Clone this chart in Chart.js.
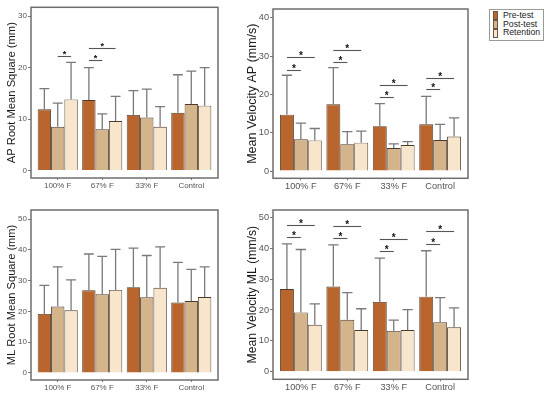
<!DOCTYPE html>
<html><head><meta charset="utf-8">
<script src="https://cdn.jsdelivr.net/npm/chart.js@4/dist/chart.umd.min.js"></script>
<style>
html,body{margin:0;padding:0;background:#fff;width:550px;height:399px;overflow:hidden;position:relative;font-family:'Liberation Sans',Arial,sans-serif}
canvas{position:absolute}
#legend{position:absolute;left:489px;top:9px;width:55px;height:32px;border:1px solid #9a9a9a;box-sizing:border-box;background:#fff}
#legend .sw{position:absolute;left:3px;width:5px;height:9px;box-sizing:border-box;border:1px solid #6b5442}
#legend .lt{position:absolute;left:13px;font-size:8.7px;line-height:9px;color:#222;white-space:nowrap}
</style></head><body>
<canvas id="c1" width="240" height="199" style="left:0;top:0;width:240px;height:199px"></canvas>
<canvas id="c2" width="240" height="199" style="left:240px;top:0;width:240px;height:199px"></canvas>
<canvas id="c3" width="240" height="200" style="left:0;top:199px;width:240px;height:200px"></canvas>
<canvas id="c4" width="240" height="200" style="left:240px;top:199px;width:240px;height:200px"></canvas>
<div id="legend">
  <div class="sw" style="top:0.7px;background:#b8652e"></div>
  <div class="sw" style="top:9.7px;background:#d4b48a"></div>
  <div class="sw" style="top:18.7px;background:#f8e6cc"></div>
  <span class="lt" id="l0" style="top:1px"></span>
  <span class="lt" id="l1" style="top:9.5px"></span>
  <span class="lt" id="l2" style="top:18px"></span>
</div>
<script>
// ---------- data ----------
const categories = ['100% F', '67% F', '33% F', 'Control'];
const seriesNames = ['Pre-test', 'Post-test', 'Retention'];
const seriesColors = ['#b8652e', '#d4b48a', '#f8e6cc'];

// AP Root Mean Square (mm)
const apRmsPre = [11.9, 13.7, 10.8, 11.2];
const apRmsPost = [8.5, 8.0, 10.3, 12.9];
const apRmsRet = [13.8, 9.6, 8.5, 12.6];
const apRmsPreSd = [4.0, 6.3, 4.7, 7.4];
const apRmsPostSd = [4.6, 3.0, 5.5, 6.4];
const apRmsRetSd = [7.2, 4.8, 3.9, 7.4];
// significance: [group, series A, series B, level]
const apRmsSig = [[0, 1, 2, 22.2], [1, 0, 1, 21.4], [1, 0, 2, 23.7]];
const apRmsTicks = [0, 10, 20, 30];

// Mean Velocity AP (mm/s)
const apVelPre = [14.7, 17.4, 11.7, 12.2];
const apVelPost = [8.3, 7.0, 6.0, 8.1];
const apVelRet = [8.0, 7.4, 6.8, 9.0];
const apVelPreSd = [10.3, 9.6, 5.9, 7.3];
const apVelPostSd = [4.2, 3.3, 1.1, 4.1];
const apVelRetSd = [3.1, 3.0, 0.9, 4.9];
const apVelSig = [[0, 0, 1, 26.4], [0, 0, 2, 29.7], [1, 0, 1, 28.5], [1, 0, 2, 31.7],
                  [2, 0, 1, 19.3], [2, 0, 2, 22.4], [3, 0, 1, 21.3], [3, 0, 2, 24.4]];
const apVelTicks = [0, 10, 20, 30, 40];

// ML Root Mean Square (mm)
const mlRmsPre = [19.2, 26.9, 27.9, 22.9];
const mlRmsPost = [21.6, 25.6, 24.6, 23.4];
const mlRmsRet = [20.4, 27.0, 27.7, 24.7];
const mlRmsPreSd = [9.3, 11.8, 12.7, 13.1];
const mlRmsPostSd = [12.9, 12.3, 13.6, 10.3];
const mlRmsRetSd = [9.9, 13.2, 13.3, 9.8];
const mlRmsSig = [];
const mlRmsTicks = [0, 10, 20, 30, 40, 50];

// Mean Velocity ML (mm/s)
const mlVelPre = [26.8, 27.6, 22.6, 24.3];
const mlVelPost = [19.2, 16.8, 13.2, 16.0];
const mlVelRet = [15.2, 13.5, 13.5, 14.4];
const mlVelPreSd = [14.6, 13.5, 14.2, 14.9];
const mlVelPostSd = [20.4, 8.8, 3.5, 8.0];
const mlVelRetSd = [6.8, 6.9, 6.6, 6.3];
const mlVelSig = [[0, 0, 1, 43.7], [0, 0, 2, 47.6], [1, 0, 1, 43.3], [1, 0, 2, 47.2],
                  [2, 0, 1, 39.0], [2, 0, 2, 43.0], [3, 0, 1, 41.5], [3, 0, 2, 45.5]];
const mlVelTicks = [0, 10, 20, 30, 40, 50];

// ---------- drawing ----------
const FONT = "'Liberation Sans', Arial, sans-serif";
seriesNames.forEach((n, i) => document.getElementById('l' + i).textContent = n);

const extrasPlugin = {
  id: 'extras',
  afterDatasetsDraw(chart, args, opts) {
    const ctx = chart.ctx, ys = chart.scales.y;
    ctx.save();
    // error bars
    ctx.strokeStyle = '#7a7a7a';
    ctx.lineWidth = 1.3;
    chart.data.datasets.forEach((ds, di) => {
      const meta = chart.getDatasetMeta(di);
      meta.data.forEach((bar, i) => {
        const top = ys.getPixelForValue(ds.data[i].y + ds.sd[i]);
        const half = bar.width * 0.37;
        ctx.beginPath();
        ctx.moveTo(bar.x, bar.y);
        ctx.lineTo(bar.x, top);
        ctx.moveTo(bar.x - half, top);
        ctx.lineTo(bar.x + half, top);
        ctx.stroke();
      });
    });
    // significance brackets
    ctx.strokeStyle = '#555';
    ctx.lineWidth = 1.1;
    ctx.fillStyle = '#111';
    ctx.font = 'bold ' + opts.starSize + 'px ' + FONT;
    ctx.textAlign = 'center';
    ctx.textBaseline = 'alphabetic';
    (opts.sig || []).forEach(([g, a, b, lvl]) => {
      const xa = chart.getDatasetMeta(a).data[g].x;
      const xb = chart.getDatasetMeta(b).data[g].x;
      const yy = Math.round(ys.getPixelForValue(lvl)) + 0.5;
      ctx.beginPath();
      ctx.moveTo(xa, yy);
      ctx.lineTo(xb, yy);
      ctx.stroke();
      ctx.fillText('*', (xa + xb) / 2, yy + opts.starSize * 0.1);
    });
    ctx.restore();
  },
  afterDraw(chart) {
    const ctx = chart.ctx, a = chart.chartArea;
    ctx.save();
    ctx.strokeStyle = '#6e6e6e';
    ctx.lineWidth = 1.5;
    ctx.strokeRect(a.left, a.top, a.right - a.left, a.bottom - a.top);
    ctx.restore();
  }
};

function makePanel(id, cfg) {
  const vals = [cfg.pre, cfg.post, cfg.ret];
  const sds = [cfg.preSd, cfg.postSd, cfg.retSd];
  const datasets = seriesNames.map((name, s) => ({
    label: name,
    data: categories.map((c, i) => ({ x: i, y: vals[s][i] })),
    sd: sds[s],
    backgroundColor: seriesColors[s],
    borderColor: '#4d3a2c',
    borderWidth: 0.9,
    barPercentage: 1.0,
    categoryPercentage: 0.9
  }));
  const lh = cfg.titleSize * 1.2;
  new Chart(document.getElementById(id), {
    type: 'bar',
    data: { datasets },
    options: {
      responsive: false,
      animation: false,
      events: [],
      layout: { padding: { top: cfg.padTop, right: cfg.padRight, bottom: 0, left: 0 } },
      plugins: {
        legend: { display: false },
        tooltip: { enabled: false },
        extras: { sig: cfg.sig, starSize: cfg.starSize }
      },
      scales: {
        x: {
          type: 'linear',
          offset: false,
          min: -0.6, max: 3.6,
          afterBuildTicks: s => { s.ticks = categories.map((c, i) => ({ value: i })); },
          afterFit: s => { s.height = cfg.xHeight; },
          grid: { offset: false, drawOnChartArea: false, drawTicks: true, tickLength: 2, color: '#777' },
          border: { display: false },
          ticks: {
            autoSkip: false, maxRotation: 0, padding: 1,
            color: '#555', font: { size: cfg.tickSize, family: FONT },
            callback: v => categories[v]
          }
        },
        y: {
          type: 'linear',
          min: cfg.yMin, max: cfg.yMax,
          afterBuildTicks: s => { s.ticks = cfg.yTicks.map(v => ({ value: v })); },
          afterFit: s => { s.width = cfg.yWidth; },
          grid: { drawOnChartArea: false, drawTicks: true, tickLength: 3, color: '#777' },
          border: { display: false },
          ticks: { padding: 1, color: '#555', font: { size: cfg.tickSize, family: FONT } },
          title: {
            display: true, text: cfg.title, color: '#1a1a1a',
            font: { size: cfg.titleSize, family: FONT, lineHeight: 1.2 },
            padding: { top: cfg.titleX - lh / 2, bottom: 0 }
          }
        }
      }
    },
    plugins: [extrasPlugin]
  });
}

makePanel('c1', {
  pre: apRmsPre, post: apRmsPost, ret: apRmsRet,
  preSd: apRmsPreSd, postSd: apRmsPostSd, retSd: apRmsRetSd,
  sig: apRmsSig, yTicks: apRmsTicks, yMin: -1.45, yMax: 31.7,
  title: 'AP Root Mean Square (mm)', titleSize: 11.2, tickSize: 8, starSize: 9,
  titleX: 12.2, yWidth: 31, padTop: 7.3, padRight: 22, xHeight: 21
});
makePanel('c2', {
  pre: apVelPre, post: apVelPost, ret: apVelRet,
  preSd: apVelPreSd, postSd: apVelPostSd, retSd: apVelRetSd,
  sig: apVelSig, yTicks: apVelTicks, yMin: -1.9, yMax: 42.3,
  title: 'Mean Velocity AP (mm/s)', titleSize: 12.5, tickSize: 9.2, starSize: 10,
  titleX: 12.5, yWidth: 33, padTop: 9, padRight: 12, xHeight: 20.7
});
makePanel('c3', {
  pre: mlRmsPre, post: mlRmsPost, ret: mlRmsRet,
  preSd: mlRmsPreSd, postSd: mlRmsPostSd, retSd: mlRmsRetSd,
  sig: mlRmsSig, yTicks: mlRmsTicks, yMin: -2.28, yMax: 53.0,
  title: 'ML Root Mean Square (mm)', titleSize: 11.1, tickSize: 8, starSize: 9,
  titleX: 12.0, yWidth: 31, padTop: 11, padRight: 22, xHeight: 19
});
makePanel('c4', {
  pre: mlVelPre, post: mlVelPost, ret: mlVelRet,
  preSd: mlVelPreSd, postSd: mlVelPostSd, retSd: mlVelRetSd,
  sig: mlVelSig, yTicks: mlVelTicks, yMin: -2.46, yMax: 52.4,
  title: 'Mean Velocity ML (mm/s)', titleSize: 12.2, tickSize: 9.2, starSize: 10,
  titleX: 12.5, yWidth: 33, padTop: 11, padRight: 12, xHeight: 19.7
});
</script>
</body></html>
